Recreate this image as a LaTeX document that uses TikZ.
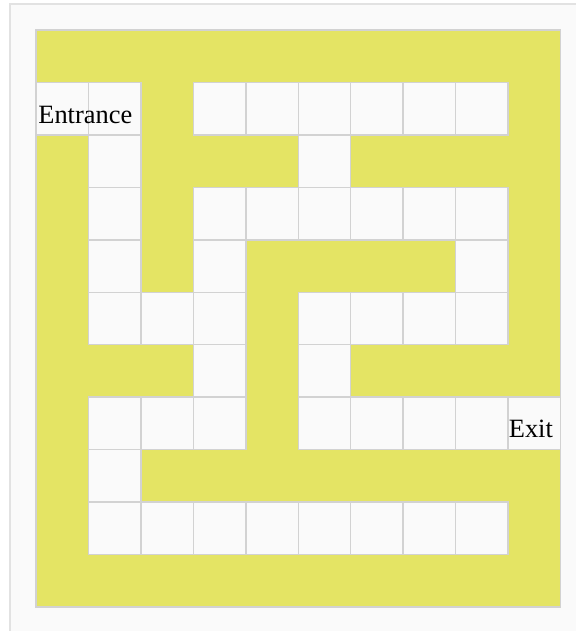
\documentclass[tikz,border=0pt]{standalone}
\usepackage{fontspec}
\setmainfont{Liberation Serif}
\definecolor{mazeyellow}{RGB}{228,228,100}
\definecolor{cellwhite}{RGB}{250,250,250}
\definecolor{cellline}{RGB}{210,210,210}
\definecolor{frameline}{RGB}{226,226,226}

\begin{document}
\begin{tikzpicture}[x=0.5pt,y=-0.5pt,frame/.style={draw=frameline,fill=cellwhite,line width=0.8pt},wall/.style={draw=cellline,fill=mazeyellow,line width=0.6pt},cell/.style={draw=cellline,fill=cellwhite,line width=0.75pt},label/.style={font=\fontsize{13.2}{15}\selectfont,anchor=base west,inner sep=0pt}]
\useasboundingbox (0,0) rectangle (576,631);
\fill[white] (0,0) rectangle (576,631);
\draw[frame] (10,4) rectangle (580,640);
\draw[wall] (36,30) rectangle (560.5,607);
% open cells of the maze, row by row
\foreach \r/\cs in {1/{0,1,3,4,5,6,7,8},2/{1,5},3/{1,3,4,5,6,7,8},4/{1,3,8},5/{1,2,3,5,6,7,8},6/{3,5},7/{1,2,3,5,6,7,8,9},8/{1},9/{1,2,3,4,5,6,7,8}}
  \foreach \c in \cs
    \draw[cell] (36+52.45*\c,30+52.45*\r) rectangle ++(52.45,52.45);
\node[label] (entrance) at (38,123) {Entrance};
\node[label] (exit) at (508.5,437.5) {Exit};
\end{tikzpicture}
\end{document}
